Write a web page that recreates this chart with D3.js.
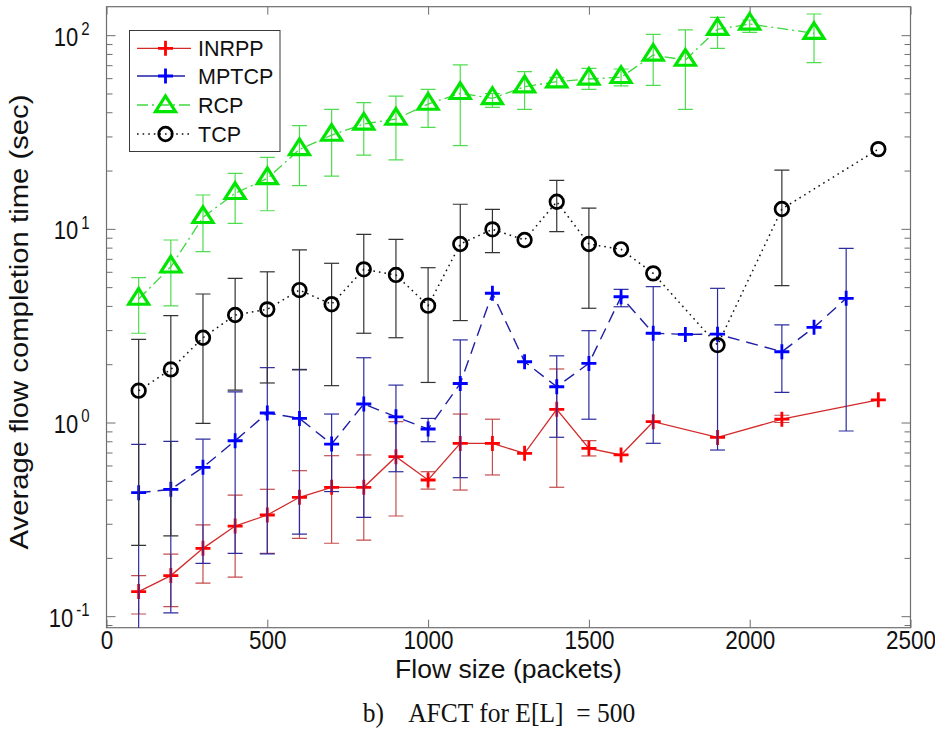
<!DOCTYPE html>
<html>
<head>
<meta charset="utf-8">
<script src="https://cdn.jsdelivr.net/npm/d3@7"></script>
<style>
  body { margin: 0; background: #fff; }
  svg { display: block; }
  text { font-family: "Liberation Sans", Arial, sans-serif; fill: #111; }
</style>
</head>
<body>
<svg id="chart" width="935" height="745"></svg>
<script>
// Flow sizes (packets) and average flow completion times (sec), per protocol.
// Lo/Hi hold the lower/upper end of each error bar (null = no bar drawn).
const inrppX  = [100, 200, 300, 400, 500, 600, 700, 800, 900, 1000, 1100, 1200, 1300, 1400, 1500, 1600, 1700, 1900, 2100, 2400];
const inrppY  = [0.134, 0.162, 0.224, 0.292, 0.333, 0.411, 0.463, 0.463, 0.666, 0.505, 0.78, 0.78, 0.693, 1.17, 0.736, 0.68, 1.01, 0.838, 1.04, 1.31];
const inrppLo = [0.1026, 0.112, 0.148, 0.159, 0.211, 0.252, 0.238, 0.247, 0.329, 0.453, 0.448, 0.536, null, 0.463, 0.672, null, null, null, 1.0, null];
const inrppHi = [0.162, 0.209, 0.296, 0.422, 0.452, 0.564, 0.674, 0.68, 1.01, 0.557, 1.106, 1.04, null, 1.89, 0.806, null, null, null, 1.09, null];

const mptcpX  = [100, 200, 300, 400, 500, 600, 700, 800, 900, 1000, 1100, 1200, 1300, 1400, 1500, 1600, 1700, 1800, 1900, 2100, 2200, 2300];
const mptcpY  = [0.434, 0.452, 0.587, 0.805, 1.12, 1.05, 0.774, 1.246, 1.07, 0.926, 1.59, 4.65, 2.06, 1.53, 2.02, 4.46, 2.89, 2.85, 2.86, 2.32, 3.10, 4.38];
const mptcpLo = [0.07, 0.104, 0.1875, 0.211, 0.21, 0.265, 0.44, 0.324, 0.557, 0.796, 0.519, null, null, 0.839, 1.04, 3.96, 0.781, null, 0.721, 1.43, null, 0.904];
const mptcpHi = [0.772, 0.80, 0.82, 1.44, 1.92, 1.88, 1.106, 2.16, 1.56, 1.05, 2.67, null, null, 2.21, 2.98, 4.87, 5.03, null, 4.93, 3.19, null, 7.93];

const rcpX  = [100, 200, 300, 400, 500, 600, 700, 800, 900, 1000, 1100, 1200, 1300, 1400, 1500, 1600, 1700, 1800, 1900, 2000, 2200];
const rcpY  = [4.34, 6.37, 11.47, 15.26, 18.2, 25.7, 30.5, 34.8, 36.9, 44.1, 50.1, 47.2, 54.2, 57.5, 59.4, 60.6, 79.0, 74.4, 107.3, 114.2, 102.3];
const rcpLo = [2.89, 4.0, 7.62, 10.68, 12.4, 16.7, 18.7, 24.0, 22.7, 33.4, 26.9, 42.4, 41.4, 53.8, 52.5, 54.7, 55.1, 41.4, 85.5, 103.4, 72.1];
const rcpHi = [5.6, 8.76, 14.95, 19.35, 23.4, 34.1, 41.4, 44.8, 48.5, 52.5, 70.2, 50.0, 64.8, 60.6, 67.4, 66.9, 101, 106.4, 123.7, 119.8, 128.6];

const tcpX  = [100, 200, 300, 400, 500, 600, 700, 800, 900, 1000, 1100, 1200, 1300, 1400, 1500, 1600, 1700, 1900, 2100, 2400];
const tcpY  = [1.46, 1.88, 2.74, 3.59, 3.84, 4.83, 4.08, 6.18, 5.78, 4.01, 8.35, 9.94, 8.76, 13.8, 8.35, 7.84, 5.89, 2.51, 12.66, 25.8];
const tcpLo = [0.232, 0.26, 0.99, 1.47, 1.6, 1.87, 1.55, 2.89, 2.74, 1.61, 3.36, 7.53, null, 9.67, 3.89, null, null, null, 5.09, null];
const tcpHi = [2.69, 3.56, 4.61, 5.55, 6.0, 7.78, 6.64, 9.37, 8.83, 6.3, 13.4, 12.6, null, 17.8, 12.8, null, null, null, 20.1, null];

const seriesNames = ["INRPP", "MPTCP", "RCP", "TCP"];
const xTickValues = [0, 500, 1000, 1500, 2000, 2500];
const yDecades = [0.1, 1, 10, 100];
const xDomain = [0, 2500];
const yDomain = [0.0872, 140.3];

const xTitle = "Flow size (packets)";
const yTitle = "Average flow completion time (sec)";
const caption = "b)    AFCT for E[L]  = 500";

// ---------------------------------------------------------------------------
const svg = d3.select("#chart");
const W = 935, H = 745;
svg.append("rect").attr("width", W).attr("height", H).attr("fill", "#fff");

const plot = { left: 106.5, right: 910.5, top: 6.7, bottom: 627.7 };
const x = d3.scaleLinear().domain(xDomain).range([plot.left, plot.right]);
const y = d3.scaleLog().domain(yDomain).range([plot.bottom, plot.top]);

svg.append("defs").append("clipPath").attr("id", "plotClip")
  .append("rect")
  .attr("x", plot.left).attr("y", plot.top)
  .attr("width", plot.right - plot.left).attr("height", plot.bottom - plot.top);

// Minor ticks of the log axis (2..9 of every decade inside the domain)
const yMinor = [];
[0.01, 0.1, 1, 10, 100].forEach(d => {
  for (let k = 2; k <= 9; k++) {
    const v = d * k;
    if (v >= yDomain[0] && v <= yDomain[1]) yMinor.push(v);
  }
});

const axisColor = "#6e6e6e";
const tallText = 1.12;   // axis text is drawn slightly taller than wide

function styleAxis(g) {
  g.select(".domain").remove();
  g.selectAll(".tick line").attr("stroke", axisColor).attr("stroke-width", 1);
}

// Bottom / top ticks (pointing inward)
svg.append("g").attr("transform", `translate(0,${plot.bottom})`)
  .call(d3.axisBottom(x).tickValues(xTickValues).tickSize(-8).tickPadding(0).tickFormat(d3.format("d")))
  .call(styleAxis)
  .call(g => g.selectAll(".tick text")
    .attr("font-size", 22.5).attr("y", 0).attr("dy", null)
    .attr("transform", `translate(0,20.8) scale(1,${tallText})`));
svg.append("g").attr("transform", `translate(0,${plot.top})`)
  .call(d3.axisTop(x).tickValues(xTickValues).tickSize(-8).tickFormat(""))
  .call(styleAxis);

// Left / right ticks: decades longer, minor ticks shorter
svg.append("g").attr("transform", `translate(${plot.left},0)`)
  .call(d3.axisLeft(y).tickValues(yMinor).tickSize(-6).tickFormat(""))
  .call(styleAxis);
svg.append("g").attr("transform", `translate(${plot.right},0)`)
  .call(d3.axisRight(y).tickValues(yMinor).tickSize(-6).tickFormat(""))
  .call(styleAxis);
svg.append("g").attr("transform", `translate(${plot.right},0)`)
  .call(d3.axisRight(y).tickValues(yDecades).tickSize(-9).tickFormat(""))
  .call(styleAxis);
const yAxisG = svg.append("g").attr("transform", `translate(${plot.left},0)`)
  .call(d3.axisLeft(y).tickValues(yDecades).tickSize(-9).tickPadding(0).tickFormat(""))
  .call(styleAxis);

// Decade labels as 10 with a raised exponent
yAxisG.selectAll(".tick text").each(function (d) {
  const t = d3.select(this)
    .attr("font-size", 22)
    .attr("x", 0).attr("dy", null)
    .attr("transform", `translate(-17,10) scale(1,1.18)`);
  t.text(null);
  t.append("tspan").text("10");
  t.append("tspan").attr("font-size", 15).attr("dy", -9).attr("dx", 3)
    .text(String(Math.round(Math.log10(d))));
});

// Plot frame
svg.append("rect")
  .attr("x", plot.left).attr("y", plot.top)
  .attr("width", plot.right - plot.left).attr("height", plot.bottom - plot.top)
  .attr("fill", "none").attr("stroke", axisColor).attr("stroke-width", 1.2);

// ---------------------------------------------------------------------------
const styles = {
  INRPP: { line: "#d42a2a", dash: null, lw: 1.3, bar: "#c44c4c", mark: "#ff0000", marker: "plus" },
  MPTCP: { line: "#1e1ea6", dash: "12,7", lw: 1.4, bar: "#2c2ca0", mark: "#0000ff", marker: "plus" },
  RCP:   { line: "#3fd83f", dash: "11,4,2,4", lw: 1.3, bar: "#4fdc4f", mark: "#00e600", marker: "tri" },
  TCP:   { line: "#111111", dash: "1.6,4", lw: 1.5, bar: "#333333", mark: "#000000", marker: "circle" }
};

const markerPaths = {
  plus: "M-7.5,0H7.5M0,-7.5V7.5",
  tri: "M0,-10.5L10,5.2L-10,5.2Z"
};

function drawMarker(g, kind, color, cx, cy) {
  if (kind === "circle") {
    g.append("circle").attr("cx", cx).attr("cy", cy).attr("r", 6.8)
      .attr("fill", "none").attr("stroke", color).attr("stroke-width", 2.7);
  } else if (kind === "plus") {
    g.append("path").attr("d", markerPaths.plus).attr("transform", `translate(${cx},${cy})`)
      .attr("fill", "none").attr("stroke", color).attr("stroke-width", 2.8);
  } else {
    g.append("path").attr("d", markerPaths.tri).attr("transform", `translate(${cx},${cy})`)
      .attr("fill", "none").attr("stroke", color).attr("stroke-width", 3.2)
      .attr("stroke-linejoin", "miter");
  }
}

const seriesData = [
  { name: "INRPP", xs: inrppX, ys: inrppY, lo: inrppLo, hi: inrppHi },
  { name: "MPTCP", xs: mptcpX, ys: mptcpY, lo: mptcpLo, hi: mptcpHi },
  { name: "RCP",   xs: rcpX,   ys: rcpY,   lo: rcpLo,   hi: rcpHi },
  { name: "TCP",   xs: tcpX,   ys: tcpY,   lo: tcpLo,   hi: tcpHi }
];

const capHalf = 7.5;
const lineGen = d3.line().x(d => x(d.x)).y(d => y(d.y));

seriesData.forEach(s => {
  const st = styles[s.name];
  const g = svg.append("g").attr("class", "series-" + s.name);
  const pts = s.xs.map((v, i) => ({ x: v, y: s.ys[i], lo: s.lo[i], hi: s.hi[i] }));

  // error bars
  const eb = g.append("g").attr("clip-path", "url(#plotClip)")
    .attr("stroke", st.bar).attr("stroke-width", 1.2).attr("fill", "none");
  pts.filter(p => p.lo != null && p.hi != null).forEach(p => {
    const px = x(p.x), y0 = y(p.lo), y1 = y(p.hi);
    eb.append("line").attr("x1", px).attr("x2", px).attr("y1", y0).attr("y2", y1);
    eb.append("line").attr("x1", px - capHalf).attr("x2", px + capHalf).attr("y1", y0).attr("y2", y0);
    eb.append("line").attr("x1", px - capHalf).attr("x2", px + capHalf).attr("y1", y1).attr("y2", y1);
  });

  // connecting line
  g.append("path").datum(pts).attr("clip-path", "url(#plotClip)")
    .attr("d", lineGen)
    .attr("fill", "none").attr("stroke", st.line).attr("stroke-width", st.lw)
    .attr("stroke-dasharray", st.dash);

  // markers
  const mg = g.append("g");
  pts.forEach(p => drawMarker(mg, st.marker, st.mark, x(p.x), y(p.y)));
});

// ---------------------------------------------------------------------------
// Legend
const legend = svg.append("g");
legend.append("rect").attr("x", 129.5).attr("y", 30.5).attr("width", 150.5).attr("height", 121)
  .attr("fill", "#fff").attr("stroke", "#3a3a3a").attr("stroke-width", 1);
const rowY = [48.3, 76, 105, 134];
seriesNames.forEach((name, i) => {
  const st = styles[name];
  const ly = rowY[i];
  legend.append("line").attr("x1", 137).attr("x2", name === "MPTCP" ? 185 : 191)
    .attr("y1", ly).attr("y2", ly)
    .attr("stroke", st.line).attr("stroke-width", st.lw)
    .attr("stroke-dasharray", name === "MPTCP" ? null : st.dash);
  drawMarker(legend, st.marker, st.mark, 165.5, name === "RCP" ? ly + 1.5 : ly);
  legend.append("text").attr("x", 198).attr("y", ly).attr("dy", "0.36em")
    .attr("font-size", 21.5).text(name);
});

// ---------------------------------------------------------------------------
// Titles
const xMid = (plot.left + plot.right) / 2;
svg.append("text")
  .attr("transform", `translate(${xMid},678)`)
  .attr("text-anchor", "middle").attr("font-size", 26.5).text(xTitle);
svg.append("text")
  .attr("transform", `translate(28,322) rotate(-90)`)
  .attr("text-anchor", "middle").attr("font-size", 26)
  .attr("textLength", 455).attr("lengthAdjust", "spacingAndGlyphs")
  .text(yTitle);
svg.append("text")
  .attr("transform", `translate(499,722) scale(1,1.1)`)
  .attr("text-anchor", "middle")
  .style("font-family", "'Liberation Serif', 'Times New Roman', serif")
  .attr("font-size", 25.5).style("white-space", "pre").text(caption);
</script>
</body>
</html>
